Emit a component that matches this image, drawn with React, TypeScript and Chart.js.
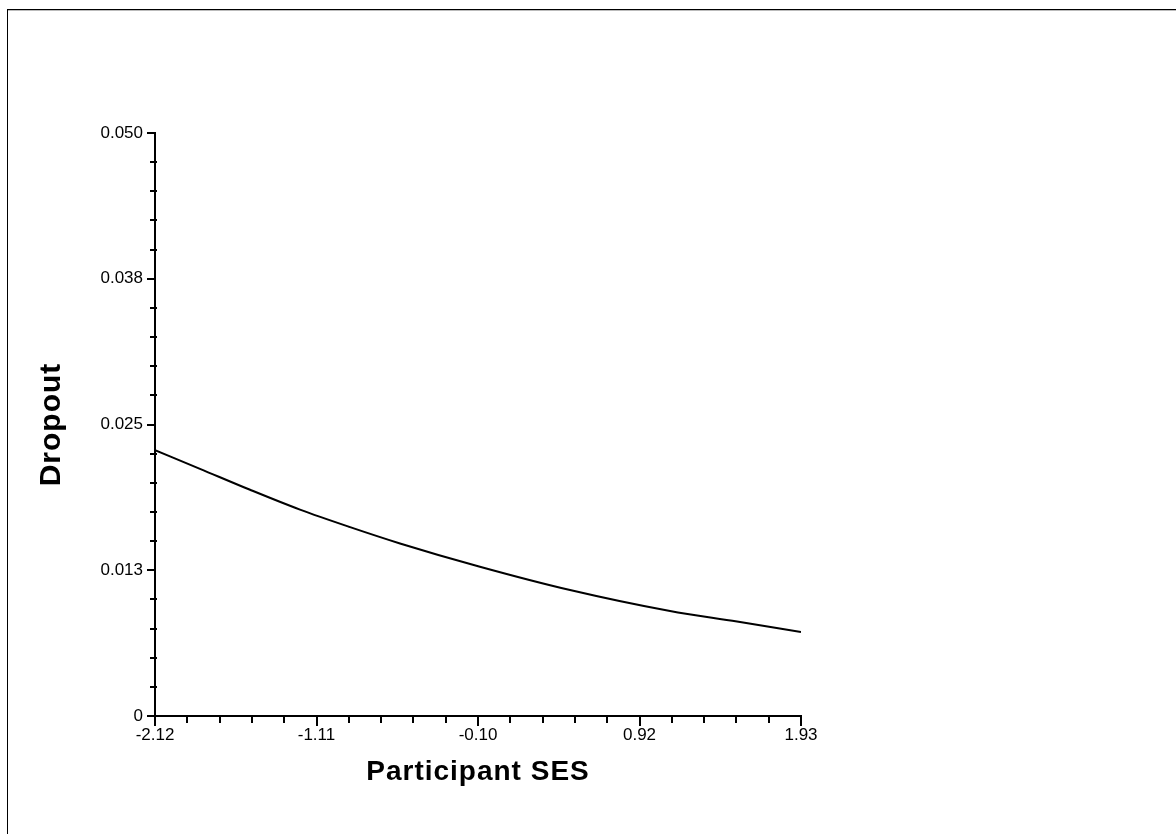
import React, { useEffect, useRef } from "react";
import { Chart, registerables } from "chart.js";

Chart.register(...registerables);

const SES = [-2.12, -1.838, -1.524, -1.211, -0.897, -0.584, -0.083, 0.482, 1.109, 1.529, 1.93];
const DROPOUT = [0.0228, 0.0212, 0.0194, 0.0177, 0.0162, 0.0148, 0.0128, 0.0108, 0.009, 0.0081, 0.0072];

const X_TICKS = [-2.12, -1.1075, -0.095, 0.9175, 1.93];
const X_TICK_LABELS = ["-2.12", "-1.11", "-0.10", "0.92", "1.93"];
const Y_TICKS = [0, 0.0125, 0.025, 0.0375, 0.05];
const Y_TICK_LABELS = ["0", "0.013", "0.025", "0.038", "0.050"];
const MINOR_DIVISIONS = 5;

const FONT = "'Liberation Sans', Arial, Helvetica, sans-serif";

const axisDecor = {
  id: "axisDecor",
  beforeDraw(chart: any) {
    (chart.ctx as any).letterSpacing = "1px";
  },
  beforeDatasetsDraw(chart: any) {
    (chart.ctx as any).letterSpacing = "0px";
  },
  afterDraw(chart: any) {
    const ctx = chart.ctx;
    const xs = chart.scales.x;
    const ys = chart.scales.y;
    const area = chart.chartArea;
    ctx.save();
    (ctx as any).letterSpacing = "0px";
    ctx.strokeStyle = "#000";
    ctx.lineWidth = 2;
    ctx.beginPath();
    for (let i = 0; i < X_TICKS.length; i++) {
      const px = Math.round(xs.getPixelForValue(X_TICKS[i]));
      ctx.moveTo(px, area.bottom);
      ctx.lineTo(px, area.bottom + 10);
      if (i < X_TICKS.length - 1) {
        const step = (X_TICKS[i + 1] - X_TICKS[i]) / MINOR_DIVISIONS;
        for (let k = 1; k < MINOR_DIVISIONS; k++) {
          const mx = Math.round(xs.getPixelForValue(X_TICKS[i] + k * step));
          ctx.moveTo(mx, area.bottom);
          ctx.lineTo(mx, area.bottom + 7);
        }
      }
    }
    for (let i = 0; i < Y_TICKS.length; i++) {
      const py = Math.round(ys.getPixelForValue(Y_TICKS[i]));
      ctx.moveTo(area.left - 8, py);
      ctx.lineTo(area.left, py);
      if (i < Y_TICKS.length - 1) {
        const step = (Y_TICKS[i + 1] - Y_TICKS[i]) / MINOR_DIVISIONS;
        for (let k = 1; k < MINOR_DIVISIONS; k++) {
          const my = Math.round(ys.getPixelForValue(Y_TICKS[i] + k * step));
          ctx.moveTo(area.left - 5, my);
          ctx.lineTo(area.left + 2, my);
        }
      }
    }
    ctx.stroke();
    ctx.restore();
  },
};

export default function App() {
  const canvasRef = useRef<HTMLCanvasElement | null>(null);

  useEffect(() => {
    if (!canvasRef.current) return;
    const chart = new Chart(canvasRef.current, {
      type: "line",
      data: {
        datasets: [
          {
            data: SES.map((x, i) => ({ x, y: DROPOUT[i] })),
            borderColor: "#000",
            borderWidth: 2,
            pointRadius: 0,
            fill: false,
            cubicInterpolationMode: "monotone",
          },
        ],
      },
      options: {
        animation: false,
        responsive: false,
        maintainAspectRatio: false,
        devicePixelRatio: 1,
        layout: { padding: { left: 0, top: 133, right: 375, bottom: 0 } },
        plugins: { legend: { display: false }, tooltip: { enabled: false } },
        scales: {
          x: {
            type: "linear",
            min: -2.12,
            max: 1.93,
            grid: { display: false, drawTicks: false },
            border: { display: true, color: "#000", width: 2 },
            afterBuildTicks: (scale: any) => {
              scale.ticks = X_TICKS.map((v) => ({ value: v }));
            },
            afterFit: (scale: any) => {
              scale.height = 118;
            },
            ticks: {
              z: 1,
              autoSkip: false,
              maxRotation: 0,
              padding: 9,
              color: "#000",
              font: { family: FONT, size: 17 },
              callback: (_v: any, i: number) => X_TICK_LABELS[i],
            },
            title: {
              display: true,
              text: "Participant SES",
              color: "#000",
              font: { family: FONT, size: 28, weight: "bold" },
              padding: { top: 0, bottom: 45 },
            },
          },
          y: {
            type: "linear",
            min: 0,
            max: 0.05,
            grid: { display: false, drawTicks: false },
            border: { display: true, color: "#000", width: 2 },
            afterBuildTicks: (scale: any) => {
              scale.ticks = Y_TICKS.map((v) => ({ value: v }));
            },
            afterFit: (scale: any) => {
              scale.width = 155;
            },
            ticks: {
              z: 1,
              autoSkip: false,
              padding: 12,
              color: "#000",
              font: { family: FONT, size: 17 },
              callback: (_v: any, i: number) => Y_TICK_LABELS[i],
            },
            title: {
              display: true,
              text: "Dropout",
              color: "#000",
              font: { family: FONT, size: 30, weight: "bold" },
              padding: { top: 34, bottom: 0 },
            },
          },
        },
      } as any,
      plugins: [axisDecor],
    });
    return () => chart.destroy();
  }, []);

  return (
    <div
      style={{
        position: "fixed",
        left: 0,
        top: 0,
        width: 1176,
        height: 834,
        background: "#fff",
        overflow: "hidden",
      }}
    >
      <canvas
        ref={canvasRef}
        width={1176}
        height={834}
        style={{ position: "absolute", left: 0, top: 0, width: 1176, height: 834 }}
      />
      <div
        style={{
          position: "absolute",
          left: 7,
          top: 9,
          width: 1200,
          height: 900,
          borderTop: "1px solid #000",
          borderLeft: "1px solid #000",
          boxShadow: "inset 0 1px 0 #bbb",
          pointerEvents: "none",
        }}
      />
    </div>
  );
}
